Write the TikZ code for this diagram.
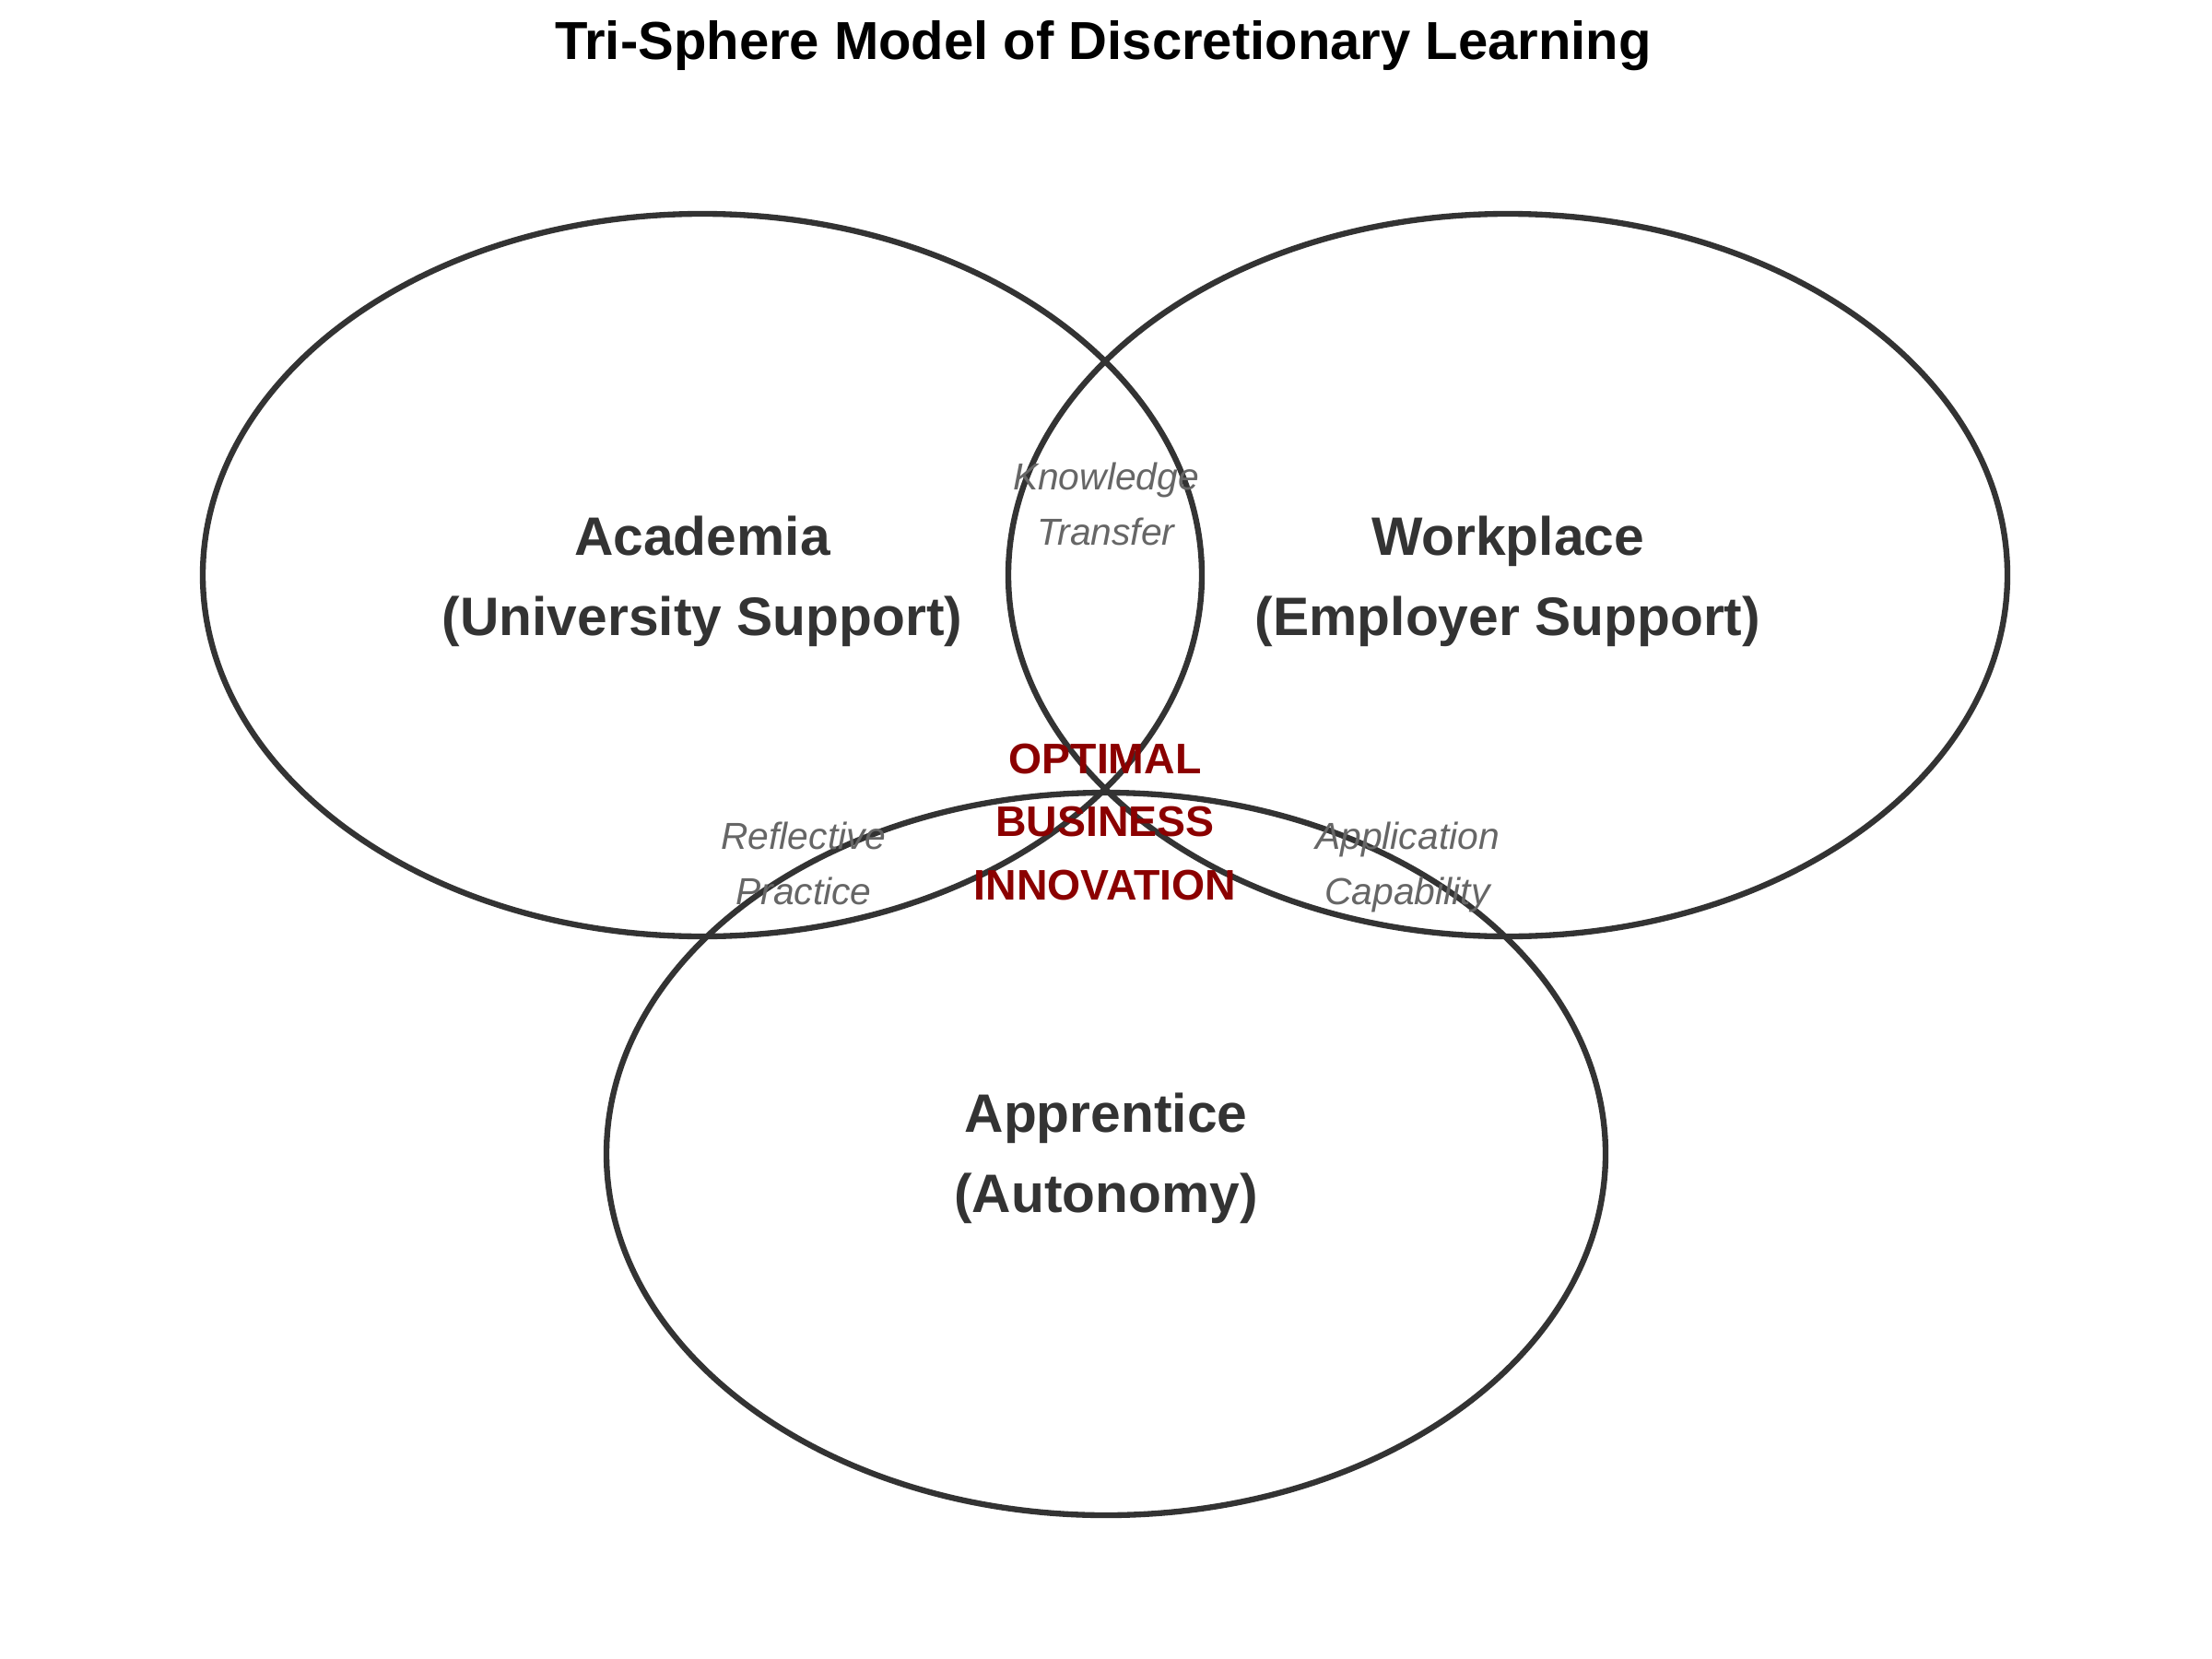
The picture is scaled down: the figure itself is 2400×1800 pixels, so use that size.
\documentclass[tikz,border=0pt]{standalone}
\usepackage{fontspec}
\setmainfont{Liberation Sans}
\definecolor{ink}{HTML}{333333}
\definecolor{soft}{HTML}{666666}
\definecolor{deep}{HTML}{8B0000}
\begin{document}
\begin{tikzpicture}[x=0.01cm,y=-0.01cm,
  sphere/.style={draw=ink,line width=1.8pt},
  mainlab/.style={text=ink,align=center,inner sep=0pt,font=\bfseries\fontsize{16.7}{24.7}\selectfont},
  linklab/.style={text=soft,align=center,inner sep=0pt,font=\itshape\fontsize{11.6}{16.9}\selectfont},
  corelab/.style={text=deep,align=center,inner sep=0pt,font=\bfseries\fontsize{13.2}{19.5}\selectfont}]
\useasboundingbox (0,0) rectangle (2400,1800);
\draw[sphere] (762,624) ellipse [x radius=542, y radius=392];
\draw[sphere] (1636,624) ellipse [x radius=542, y radius=392];
\draw[sphere] (1200,1252) ellipse [x radius=542, y radius=392];
\node[anchor=base,inner sep=0pt,font=\bfseries\fontsize{16.5}{20}\selectfont] (title) at (1197,65) {Tri-Sphere Model of Discretionary Learning};
\node[mainlab] (acad) at (762,631) {Academia\\(University Support)};
\node[mainlab] (work) at (1636,631) {Workplace\\(Employer Support)};
\node[mainlab] (appr) at (1200,1257) {Apprentice\\(Autonomy)};
\node[linklab] (kt) at (1200,547) {Knowledge\\Transfer};
\node[linklab] (rp) at (872,937) {Reflective\\Practice};
\node[linklab] (ac) at (1527,941) {Application\\Capability};
\node[corelab] (core) at (1199,892) {OPTIMAL\\BUSINESS\\INNOVATION};
\end{tikzpicture}
\end{document}
